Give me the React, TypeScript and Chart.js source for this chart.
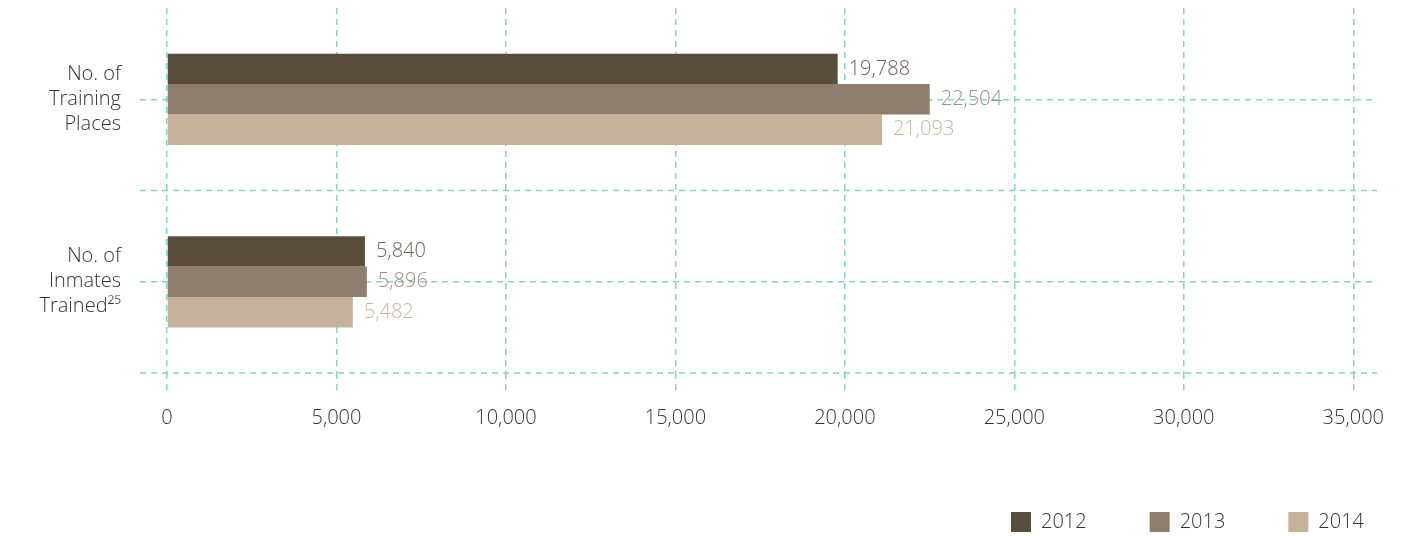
import { useEffect, useRef } from 'react';
import { Chart, registerables } from 'chart.js';

Chart.register(...registerables);

const categories: string[][] = [
  ['No. of', 'Training', 'Places'],
  ['No. of', 'Inmates', 'Trained²⁵'],
];
const years = ['2012', '2013', '2014'];
const values2012 = [19788, 5840];
const values2013 = [22504, 5896];
const values2014 = [21093, 5482];
const xTickValues = [0, 5000, 10000, 15000, 20000, 25000, 30000, 35000];

const barColors = ['#584c3d', '#8e7e6e', '#c6b29a'];
const labelColors = ['#6e645a', '#9c8f84', '#c9b8a4'];
const GRID = '#86d4c2';
const FONT = '"Open Sans", "DejaVu Sans", sans-serif';

const fmt = (v: number) => Number(v).toLocaleString('en-US');

const boundaryLines = {
  id: 'boundaryLines',
  beforeDatasetsDraw(chart: any) {
    const y = chart.scales.y;
    const { left, right } = chart.chartArea;
    const n = chart.data.labels.length;
    const half = (y.getPixelForValue(1) - y.getPixelForValue(0)) / 2;
    const ctx = chart.ctx;
    ctx.save();
    ctx.strokeStyle = GRID;
    ctx.lineWidth = 1.5;
    ctx.setLineDash([6, 5]);
    for (let i = 0; i < n; i++) {
      const yy = y.getPixelForValue(i) + half;
      ctx.beginPath();
      ctx.moveTo(left - 27, yy);
      ctx.lineTo(right, yy);
      ctx.stroke();
    }
    ctx.restore();
  },
};

const valueLabels = {
  id: 'valueLabels',
  afterDatasetsDraw(chart: any) {
    const ctx = chart.ctx;
    ctx.save();
    ctx.font = `300 20px ${FONT}`;
    ctx.textAlign = 'left';
    ctx.textBaseline = 'middle';
    chart.data.datasets.forEach((ds: any, di: number) => {
      const meta = chart.getDatasetMeta(di);
      ctx.fillStyle = labelColors[di];
      meta.data.forEach((el: any, i: number) => {
        ctx.fillText(fmt(ds.data[i]), el.x + 11, el.y);
      });
    });
    ctx.restore();
  },
};

export default function App() {
  const ref = useRef<HTMLCanvasElement>(null);

  useEffect(() => {
    if (!ref.current) return;
    const chart = new Chart(ref.current, {
      type: 'bar',
      data: {
        labels: categories as any,
        datasets: [values2012, values2013, values2014].map((vals, i) => ({
          label: years[i],
          data: vals,
          backgroundColor: barColors[i],
          borderWidth: 0,
          barPercentage: 1,
          categoryPercentage: 0.5,
        })),
      },
      options: {
        indexAxis: 'y',
        animation: false,
        responsive: false,
        layout: { padding: { top: 8, left: 0, right: 0, bottom: 0 } },
        plugins: {
          legend: {
            position: 'bottom',
            align: 'end',
            maxHeight: 87,
            labels: {
              boxWidth: 20,
              boxHeight: 20,
              padding: 63,
              color: '#333',
              font: { family: FONT, size: 20, weight: '300' as any },
            },
          },
          tooltip: { enabled: false },
        },
        scales: {
          x: {
            type: 'linear',
            min: 0,
            max: 35700,
            ticks: {
              autoSkip: false,
              maxRotation: 0,
              padding: 14,
              color: '#333',
              font: { family: FONT, size: 20, weight: '300' as any },
              callback: (v: any) => fmt(v),
            },
            afterBuildTicks: (s: any) => {
              s.ticks = xTickValues.map((v) => ({ value: v }));
            },
            afterFit: (s: any) => {
              s.height = 76;
            },
            grid: {
              color: GRID,
              lineWidth: 1.5,
              tickLength: 19,
              tickColor: GRID,
              tickWidth: 1.5,
              tickBorderDash: [6, 5],
            },
            border: { display: false, dash: [6, 5] },
          },
          y: {
            type: 'category',
            ticks: {
              padding: 19,
              color: '#333',
              font: { family: FONT, size: 20, weight: '300' as any, lineHeight: 1.25 },
            },
            afterFit: (s: any) => {
              s.width = 167;
              s.paddingTop = 0;
              s.paddingBottom = 0;
            },
            grid: {
              offset: false,
              color: GRID,
              lineWidth: 1.5,
              tickLength: 27,
              tickColor: GRID,
              tickWidth: 1.5,
              tickBorderDash: [6, 5],
            },
            border: { display: false, dash: [6, 5] },
          },
          yRight: {
            type: 'category',
            position: 'right',
            display: true,
            grid: { display: false, drawTicks: false },
            ticks: { display: false },
            border: { display: false },
            afterFit: (s: any) => {
              s.width = 50;
              s.paddingTop = 0;
              s.paddingBottom = 0;
            },
          },
        },
      } as any,
      plugins: [boundaryLines, valueLabels],
    });
    return () => chart.destroy();
  }, []);

  return (
    <div style={{ position: 'absolute', left: 0, top: 0, width: 1427, height: 536 }}>
      <canvas ref={ref} width={1427} height={536} />
    </div>
  );
}
